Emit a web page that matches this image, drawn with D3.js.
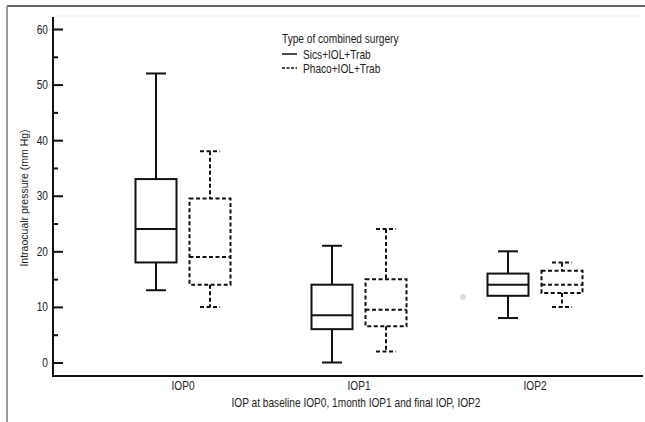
<!DOCTYPE html>
<html>
<head>
<meta charset="utf-8">
<script src="https://cdn.jsdelivr.net/npm/d3@7"></script>
<style>
  body { margin: 0; background: #fff; }
  svg text { font-family: "Liberation Sans", Arial, sans-serif; fill: #222; }
</style>
</head>
<body>
<div id="chart"></div>
<script>
// Box plot — IOP by type of combined surgery
const categories = ["IOP0", "IOP1", "IOP2"];
const groups = ["Sics+IOL+Trab", "Phaco+IOL+Trab"];
// five-number summaries [min, q1, median, q3, max] per category
const sicsStats = [[13, 18, 24, 33, 52], [0, 6, 8.5, 14, 21], [8, 12, 14, 16, 20]];
const phacoStats = [[10, 14, 19, 29.5, 38], [2, 6.5, 9.5, 15, 24], [10, 12.5, 14, 16.5, 18]];
const yTicks = [0, 10, 20, 30, 40, 50, 60];
const yMinorTicks = [5, 15, 25, 35, 45, 55];

const W = 645, H = 422;
const narrow = 0.78; // the original uses a condensed face
const svg = d3.select("#chart").append("svg").attr("width", W).attr("height", H);

// condensed text helper
const ntext = (parent, tx, ty, str, size, anchor) => parent.append("text")
  .attr("transform", `translate(${tx},${ty}) scale(${narrow},1)`)
  .attr("text-anchor", anchor || "start").attr("font-size", size).text(str);

// image frame (top + left)
svg.append("line").attr("x1", 7).attr("x2", W).attr("y1", 6).attr("y2", 6)
  .attr("stroke", "#333").attr("stroke-width", 1.5);
svg.append("line").attr("x1", 7).attr("x2", 7).attr("y1", 6).attr("y2", H)
  .attr("stroke", "#999").attr("stroke-width", 2);
svg.append("line").attr("x1", 53).attr("x2", 643).attr("y1", 16).attr("y2", 16)
  .attr("stroke", "#f0f0f0").attr("stroke-width", 1);

const y = d3.scaleLinear().domain([0, 60]).range([362.5, 29]);
const x = d3.scaleBand().domain(categories).range([95, 623]);
const sub = d3.scaleOrdinal().domain(groups).range([-27, 27]);
const boxW = 41, capW = 20;

// axes lines
const axisY = 376;
svg.append("line").attr("x1", 53).attr("x2", 53).attr("y1", 17).attr("y2", axisY + 1)
  .attr("stroke", "#111").attr("stroke-width", 2);
svg.append("line").attr("x1", 52).attr("x2", 643).attr("y1", axisY).attr("y2", axisY)
  .attr("stroke", "#111").attr("stroke-width", 2);

const yAxis = svg.append("g").attr("transform", "translate(53,0)")
  .call(d3.axisRight(y).tickValues(yTicks).tickSize(10).tickFormat(""))
  .call(g => g.select(".domain").remove());
yAxis.selectAll(".tick line").attr("stroke", "#111").attr("stroke-width", 2);
svg.append("g").attr("transform", "translate(53,0)")
  .call(d3.axisRight(y).tickValues(yMinorTicks).tickSize(5).tickFormat(""))
  .call(g => g.select(".domain").remove())
  .selectAll(".tick line").attr("stroke", "#111").attr("stroke-width", 2);

const yLab = svg.append("g");
yTicks.forEach(d => ntext(yLab, 48, y(d) + 4.5, d, 13, "end"));

svg.append("text")
  .attr("transform", "translate(28,198) rotate(-90)")
  .attr("text-anchor", "middle").attr("font-size", 10.5)
  .text("Intraocualr pressure (mm Hg)");

const xLab = svg.append("g");
categories.forEach(c => ntext(xLab, x(c) + x.bandwidth() / 2, 390, c, 13, "middle"));

ntext(svg, 356, 407, "IOP at baseline IOP0, 1month IOP1 and final IOP, IOP2", 13, "middle");

// boxes
const drawBox = (stats, group, dash) => {
  stats.forEach((s, i) => {
    const cx = x(categories[i]) + x.bandwidth() / 2 + sub(group);
    const [mn, q1, md, q3, mx] = s;
    const g = svg.append("g").attr("fill", "none").attr("stroke", "#111")
      .attr("stroke-width", 2).attr("stroke-dasharray", dash);
    g.append("line").attr("x1", cx).attr("x2", cx).attr("y1", y(mx)).attr("y2", y(q3));
    g.append("line").attr("x1", cx).attr("x2", cx).attr("y1", y(q1)).attr("y2", y(mn));
    g.append("line").attr("x1", cx - capW / 2).attr("x2", cx + capW / 2).attr("y1", y(mx)).attr("y2", y(mx));
    g.append("line").attr("x1", cx - capW / 2).attr("x2", cx + capW / 2).attr("y1", y(mn)).attr("y2", y(mn));
    g.append("rect").attr("x", cx - boxW / 2).attr("width", boxW)
      .attr("y", y(q3)).attr("height", y(q1) - y(q3));
    g.append("line").attr("x1", cx - boxW / 2).attr("x2", cx + boxW / 2).attr("y1", y(md)).attr("y2", y(md));
  });
};
drawBox(sicsStats, groups[0], null);
drawBox(phacoStats, groups[1], "4,2.5");

// small grey speck seen in the original
svg.append("circle").attr("cx", 463).attr("cy", 297).attr("r", 3).attr("fill", "#ddd");

// legend
const legend = svg.append("g").attr("transform", "translate(282,0)");
ntext(legend, 0, 43, "Type of combined surgery", 13);
groups.forEach((grp, i) => {
  const ly = 54 + i * 14;
  legend.append("line").attr("x1", 0).attr("x2", 15).attr("y1", ly).attr("y2", ly)
    .attr("stroke", "#111").attr("stroke-width", 1.5)
    .attr("stroke-dasharray", i === 1 ? "3,1.5" : null);
  ntext(legend, 21, ly + 4.5, grp, 13);
});
</script>
</body>
</html>
